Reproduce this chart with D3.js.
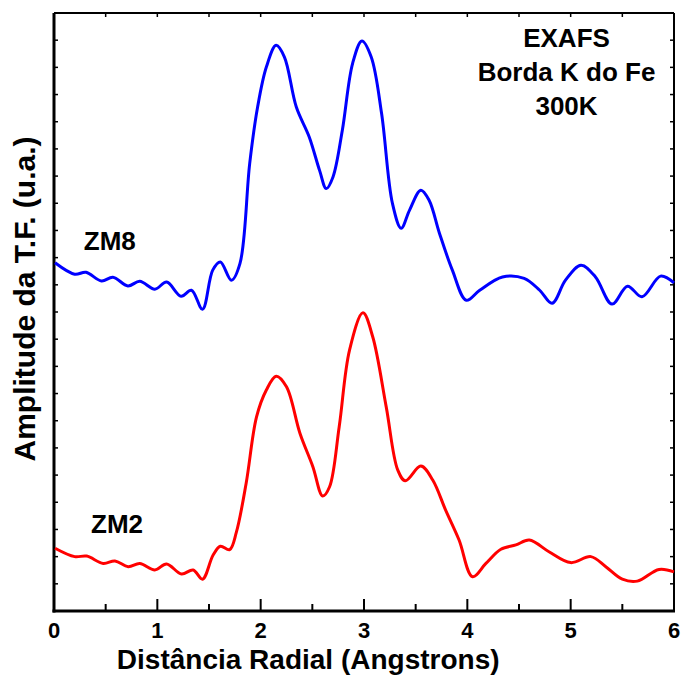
<!DOCTYPE html>
<html>
<head>
<meta charset="utf-8">
<script src="https://cdn.jsdelivr.net/npm/d3@7"></script>
<style>
  body { margin: 0; background: #fff; }
  text { font-family: "Liberation Sans", Arial, sans-serif; font-weight: bold; fill: #000; }
</style>
</head>
<body>
<svg id="chart" width="681" height="675"></svg>
<script>
// radial distance (Angstrom) and FT amplitude (arbitrary units)
var zm8R = [0.01, 0.20, 0.31, 0.46, 0.57, 0.715, 0.83, 0.976, 1.09, 1.23, 1.33, 1.437, 1.536, 1.61, 1.717, 1.80,
    1.894, 1.97, 2.055, 2.15, 2.23, 2.345, 2.47, 2.57, 2.635, 2.70, 2.79, 2.89, 2.98, 3.07, 3.17, 3.275, 3.36,
    3.44, 3.55, 3.63, 3.73, 3.855, 3.99, 4.12, 4.34, 4.55, 4.70, 4.82, 4.95, 5.10, 5.24, 5.40, 5.55, 5.69, 5.87, 6.0];
var zm8Amp = [12.81, 12.39, 12.46, 12.14, 12.28, 11.96, 12.13, 11.84, 12.10, 11.58, 11.80, 11.10, 12.54, 12.84, 12.17, 12.79,
    16.47, 18.53, 20.01, 20.81, 20.38, 18.54, 17.44, 16.21, 15.54, 15.97, 17.68, 20.15, 20.97, 20.38, 18.31, 15.0, 14.08,
    14.74, 15.48, 15.11, 13.90, 12.54, 11.43, 11.80, 12.29, 12.24, 11.80, 11.32, 12.17, 12.72, 12.29, 11.29, 11.95, 11.56, 12.32, 12.07];

var zm2R = [0.01, 0.20, 0.316, 0.476, 0.59, 0.718, 0.83, 0.976, 1.089, 1.234, 1.346, 1.437, 1.54, 1.61, 1.70, 1.765,
    1.86, 1.96, 2.055, 2.15, 2.25, 2.38, 2.505, 2.60, 2.667, 2.76, 2.86, 2.99, 3.085, 3.215, 3.327, 3.40, 3.55,
    3.665, 3.79, 3.92, 4.05, 4.18, 4.325, 4.47, 4.60, 4.79, 5.00, 5.195, 5.34, 5.50, 5.645, 5.855, 6.0];
var zm2Amp = [2.31, 2.00, 2.02, 1.75, 1.84, 1.63, 1.75, 1.51, 1.73, 1.36, 1.51, 1.17, 2.06, 2.38, 2.26, 2.90,
    4.71, 7.14, 8.13, 8.64, 8.25, 6.54, 5.31, 4.23, 4.57, 6.78, 9.60, 10.97, 10.08, 7.51, 5.18, 4.79, 5.33,
    4.82, 3.71, 2.61, 1.26, 1.75, 2.27, 2.43, 2.61, 2.18, 1.78, 2.00, 1.63, 1.17, 1.10, 1.53, 1.44];

var xTickLabels = [0, 1, 2, 3, 4, 5, 6];
var noteLines = ["EXAFS", "Borda K do Fe", "300K"];
var seriesNames = ["ZM8", "ZM2"];

var svg = d3.select("#chart");
var margin = { left: 54, top: 13, right: 7, bottom: 64 };
var width = +svg.attr("width") - margin.left - margin.right;
var height = +svg.attr("height") - margin.top - margin.bottom;

var x = d3.scaleLinear().domain([0, 6]).range([0, width]);
var y = d3.scaleLinear().domain([0, 22]).range([height, 0]);

var g = svg.append("g").attr("transform", "translate(" + margin.left + "," + margin.top + ")");

// bottom axis: long ticks at integers, short at halves, all pointing inward
var halfTicks = d3.range(0, 6.01, 0.5);
g.append("g").selectAll("line").data(halfTicks).join("line")
    .attr("x1", function (d) { return x(d); }).attr("x2", function (d) { return x(d); })
    .attr("y1", height)
    .attr("y2", function (d) { return height - (d % 1 === 0 ? 12 : 7); })
    .attr("stroke", "#000").attr("stroke-width", 2);

// top axis: small inward ticks
g.append("g").selectAll("line").data(halfTicks).join("line")
    .attr("x1", function (d) { return x(d); }).attr("x2", function (d) { return x(d); })
    .attr("y1", 0).attr("y2", 4)
    .attr("stroke", "#000").attr("stroke-width", 1.5);

// left and right axes: small inward ticks every unit
var yTicks = d3.range(0, 22.01, 1);
g.append("g").selectAll("line").data(yTicks).join("line")
    .attr("x1", 0).attr("x2", 4)
    .attr("y1", function (d) { return y(d); }).attr("y2", function (d) { return y(d); })
    .attr("stroke", "#000").attr("stroke-width", 1.5);
g.append("g").selectAll("line").data(yTicks).join("line")
    .attr("x1", width).attr("x2", width - 4)
    .attr("y1", function (d) { return y(d); }).attr("y2", function (d) { return y(d); })
    .attr("stroke", "#000").attr("stroke-width", 1.5);

// frame
g.append("line").attr("x1", 0).attr("x2", width).attr("y1", 0).attr("y2", 0).attr("stroke", "#000").attr("stroke-width", 2);
g.append("line").attr("x1", width).attr("x2", width).attr("y1", 0).attr("y2", height).attr("stroke", "#000").attr("stroke-width", 2);
g.append("line").attr("x1", 0).attr("x2", 0).attr("y1", 0).attr("y2", height + 1.5).attr("stroke", "#000").attr("stroke-width", 3);
g.append("line").attr("x1", -1.5).attr("x2", width + 1).attr("y1", height).attr("y2", height).attr("stroke", "#000").attr("stroke-width", 3);

// tick labels
g.append("g").selectAll("text").data(xTickLabels).join("text")
    .attr("x", function (d) { return x(d); })
    .attr("y", height + 27)
    .attr("text-anchor", "middle")
    .style("font-size", "22px")
    .text(function (d) { return d; });

// axis titles
svg.append("text")
    .attr("x", margin.left + x(2.46))
    .attr("y", 669)
    .attr("text-anchor", "middle")
    .style("font-size", "28px")
    .text("Distância Radial (Angstrons)");

svg.append("text")
    .attr("transform", "translate(35,299) rotate(-90)")
    .attr("text-anchor", "middle")
    .style("font-size", "30px")
    .text("Amplitude da T.F. (u.a.)");

// curves
var line = d3.line()
    .x(function (d) { return x(d[0]); })
    .y(function (d) { return y(d[1]); })
    .curve(d3.curveCatmullRom.alpha(0.5));

g.append("path")
    .datum(d3.zip(zm8R, zm8Amp))
    .attr("d", line)
    .attr("fill", "none").attr("stroke", "#0000ff").attr("stroke-width", 3);

g.append("path")
    .datum(d3.zip(zm2R, zm2Amp))
    .attr("d", line)
    .attr("fill", "none").attr("stroke", "#ff0000").attr("stroke-width", 3);

// series labels
g.append("text").attr("x", x(0.54)).attr("y", y(13.28))
    .attr("text-anchor", "middle").style("font-size", "26px").text(seriesNames[0]);
g.append("text").attr("x", x(0.61)).attr("y", y(2.87))
    .attr("text-anchor", "middle").style("font-size", "26px").text(seriesNames[1]);

// annotation block
g.append("g").selectAll("text").data(noteLines).join("text")
    .attr("x", x(4.96))
    .attr("y", function (d, i) { return 34 + i * 34; })
    .attr("text-anchor", "middle")
    .style("font-size", "26px")
    .text(function (d) { return d; });
</script>
</body>
</html>
